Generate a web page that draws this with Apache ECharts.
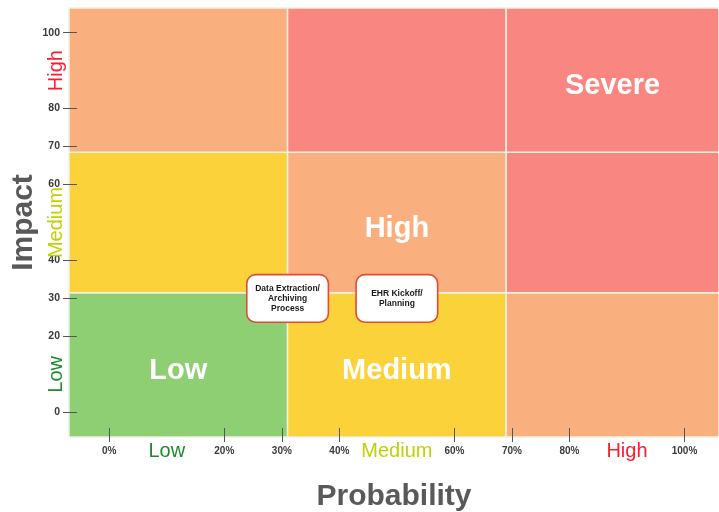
<!DOCTYPE html>
<html>
<head>
<meta charset="utf-8">
<script src="https://cdn.jsdelivr.net/npm/echarts@6/dist/echarts.min.js"></script>
<style>
  html, body { margin: 0; padding: 0; background: #ffffff; }
  #chart { width: 719px; height: 512px; }
</style>
</head>
<body>
<div id="chart"></div>
<script>
// Band edges of the risk matrix (probability in %, impact score)
const probBands = [-7, 31, 69, 106];
const impactBands = [-6.5, 31.5, 68.5, 106.5];

// Risk level of each cell: rows go from low impact to high impact
const levelRows = [
  ['Low', 'Medium', 'High'],
  ['Medium', 'High', 'Severe'],
  ['High', 'Severe', 'Severe']
];
const levelColors = { Low: '#8ECF74', Medium: '#FBD23A', High: '#F9B07E', Severe: '#F98680' };

// Cells that carry their level name: [column, row, text]
const cellLabels = [[0, 0, 'Low'], [1, 0, 'Medium'], [1, 1, 'High'], [2, 2, 'Severe']];

// Plotted risks
const riskNames = ['Data Extraction/\nArchiving\nProcess', 'EHR Kickoff/\nPlanning'];
const riskProbability = [31, 50];
const riskImpact = [30, 30];

// Axis ticks and labels
const tickValues = [0, 20, 30, 40, 60, 70, 80, 100];
const bandWordValues = [10, 50, 90];
const bandWords = ['Low', 'Medium', 'High'];

const FONT = "'Liberation Sans', Arial, sans-serif";

const cellData = [];
for (let r = 0; r < 3; r++) {
  for (let c = 0; c < 3; c++) {
    const lbl = cellLabels.find(l => l[0] === c && l[1] === r);
    cellData.push([probBands[c], probBands[c + 1], impactBands[r], impactBands[r + 1],
      levelRows[r][c], lbl ? lbl[2] : '']);
  }
}

const wordStyle = {
  Low: { color: '#1E8B2C', fontSize: 20, fontFamily: FONT, lineHeight: 14 },
  Medium: { color: '#BFD200', fontSize: 20, fontFamily: FONT, lineHeight: 14 },
  High: { color: '#FF1A2E', fontSize: 20, fontFamily: FONT, lineHeight: 14 }
};

function bandWordAt(v) {
  const i = bandWordValues.indexOf(v);
  return i >= 0 ? bandWords[i] : null;
}

const chart = echarts.init(document.getElementById('chart'), null, { renderer: 'canvas' });

const option = {
  backgroundColor: '#ffffff',
  animation: false,
  grid: { left: 69, right: 0, top: 8, bottom: 75, containLabel: false, outerBoundsMode: 'none' },
  xAxis: {
    type: 'value',
    min: probBands[0],
    max: probBands[3],
    offset: -9,
    z: 10,
    splitLine: { show: false },
    axisLine: { show: false, onZero: false },
    axisTick: {
      show: true, inside: false, length: 14, customValues: tickValues,
      lineStyle: { color: '#555', width: 1 }
    },
    axisLabel: {
      customValues: [0, 10, 20, 30, 40, 50, 60, 70, 80, 90, 100],
      margin: 16,
      formatter: v => {
        const w = bandWordAt(v);
        return w ? '{' + w + '|' + w + '}' : '{num|' + v + '%}';
      },
      rich: {
        num: { fontSize: 10, fontWeight: 'bold', color: '#3a3a3a', fontFamily: FONT, lineHeight: 14 },
        Low: wordStyle.Low, Medium: wordStyle.Medium, High: wordStyle.High
      }
    },
    name: 'Probability',
    nameLocation: 'middle',
    nameGap: 54,
    nameMoveOverlap: false,
    nameTextStyle: { fontSize: 30, fontWeight: 'bold', color: '#595959', fontFamily: FONT }
  },
  yAxis: [
    {
      type: 'value',
      min: impactBands[0],
      max: impactBands[3],
      offset: -8,
      z: 10,
      splitLine: { show: false },
      axisLine: { show: false, onZero: false },
      axisTick: {
        show: true, inside: false, length: 14, customValues: tickValues,
        lineStyle: { color: '#555', width: 1 }
      },
      axisLabel: {
        customValues: tickValues,
        margin: 17,
        fontSize: 10.5,
        fontWeight: 'bold',
        color: '#3a3a3a',
        fontFamily: FONT
      },
      name: 'Impact',
      nameLocation: 'middle',
      nameGap: 38,
      nameMoveOverlap: false,
      nameTextStyle: { fontSize: 30, fontWeight: 'bold', color: '#595959', fontFamily: FONT }
    },
    {
      type: 'value',
      position: 'left',
      min: impactBands[0],
      max: impactBands[3],
      offset: -8,
      z: 11,
      splitLine: { show: false },
      axisLine: { show: false, onZero: false },
      axisTick: { show: false },
      axisLabel: {
        customValues: bandWordValues,
        rotate: 90,
        margin: 14,
        formatter: v => {
          const w = bandWordAt(v);
          return w ? '{' + w + '|' + w + '}' : '';
        },
        rich: { Low: wordStyle.Low, Medium: wordStyle.Medium, High: wordStyle.High }
      }
    }
  ],
  series: [
    {
      type: 'custom',
      name: 'cells',
      xAxisIndex: 0,
      yAxisIndex: 0,
      z: 1,
      silent: true,
      data: cellData,
      renderItem: (params, api) => {
        const p0 = api.coord([api.value(0), api.value(3)]);
        const p1 = api.coord([api.value(1), api.value(2)]);
        const level = cellData[params.dataIndex][4];
        const text = cellData[params.dataIndex][5];
        const children = [{
          type: 'rect',
          shape: { x: p0[0], y: p0[1], width: p1[0] - p0[0], height: p1[1] - p0[1] },
          style: { fill: levelColors[level], stroke: '#EEF2E2', lineWidth: 1.5 }
        }];
        if (text) {
          children.push({
            type: 'text',
            x: (p0[0] + p1[0]) / 2,
            y: (p0[1] + p1[1]) / 2 + 6,
            style: {
              text: text, fill: '#ffffff', fontSize: 29, fontWeight: 'bold', fontFamily: FONT,
              align: 'center', verticalAlign: 'middle'
            }
          });
        }
        return { type: 'group', children: children };
      }
    },
    {
      type: 'scatter',
      name: 'risks',
      z: 5,
      symbolSize: 1,
      itemStyle: { color: 'rgba(0,0,0,0)', opacity: 1 },
      data: riskNames.map((n, i) => ({
        value: [riskProbability[i], riskImpact[i]],
        name: n,
        label: { padding: n.split('\n').length === 3 ? [8, 2] : [13, 2] }
      })),
      label: {
        show: true,
        position: 'inside',
        formatter: p => p.name,
        width: 76,
        align: 'center',
        verticalAlign: 'middle',
        fontSize: 8.5,
        fontWeight: 'bold',
        lineHeight: 10,
        color: '#1a1a1a',
        fontFamily: FONT,
        backgroundColor: '#ffffff',
        borderColor: '#E04A36',
        borderWidth: 1.6,
        borderRadius: 8
      }
    }
  ]
};

chart.setOption(option);
</script>
</body>
</html>
